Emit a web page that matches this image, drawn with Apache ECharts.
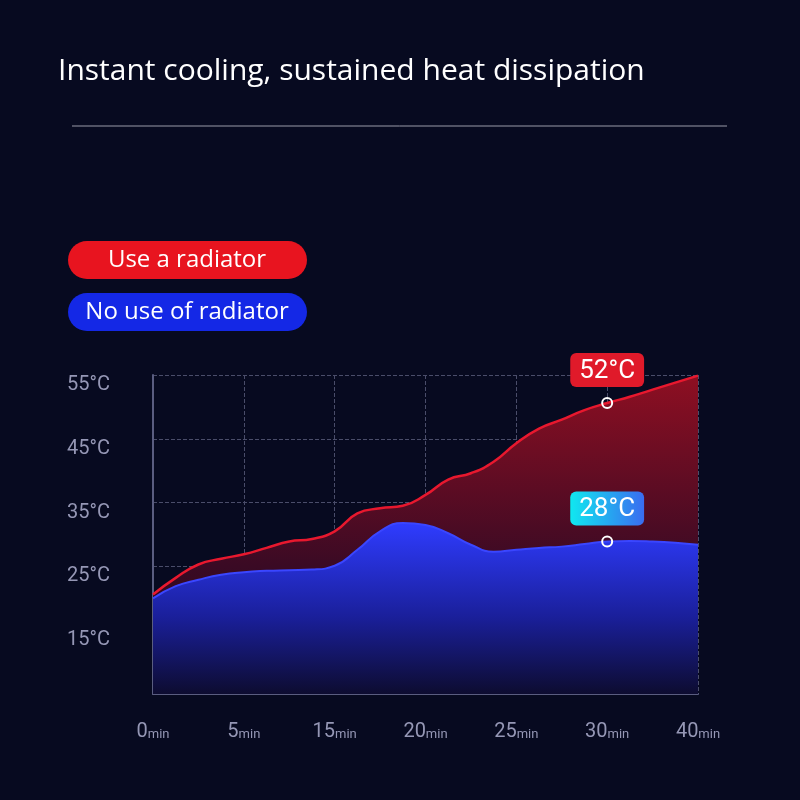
<!DOCTYPE html>
<html><head><meta charset="utf-8">
<script src="https://cdn.jsdelivr.net/npm/echarts@6/dist/echarts.min.js"></script>
<style>html,body{margin:0;background:#070a20;}#c{width:800px;height:800px;}</style>
</head><body><div id="c"></div>
<script>
const tickLabels = ['0','5','15','20','25','30','40'];
const categories = Array.from({length:25},(_,i)=>i);
const radiator = [20.6,23.2,25.3,26.2,26.9,27.9,28.9,29.3,30.5,33.3,34.1,34.5,36.2,38.6,39.6,41.4,44.3,46.6,48.0,49.5,50.6,51.6,52.7,53.8,54.9];
const noRadiator = [20.0,21.9,22.9,23.7,24.1,24.3,24.4,24.5,25.1,27.6,30.5,31.8,31.5,30.2,28.4,27.3,27.6,27.9,28.1,28.5,28.9,29.0,28.9,28.7,28.4];
const yTicks = [5,15,25,35,45,55];
const markIdx = 20;
const redLabel = '52°C', blueLabel = '28°C';

const chart = echarts.init(document.getElementById('c'));
function mark(series, text, bg){
  return {symbol:'circle',symbolSize:10,
    itemStyle:{color:'rgba(0,0,0,0)',borderColor:'#fff',borderWidth:2},
    label:{show:true,position:'top',distance:10,formatter:text,color:'#fff',fontSize:26,
      fontFamily:'Roboto',backgroundColor:bg,borderRadius:6,padding:[5,9,3,9]},
    data:[{coord:[markIdx,series[markIdx]]}]};
}
chart.setOption({
  backgroundColor:'#070a20',
  animation:false,
  grid:{left:153,right:102,top:375,bottom:106},
  xAxis:{type:'category',data:categories,boundaryGap:false,
    axisLine:{lineStyle:{color:'#5a5d80',width:2}},axisTick:{show:false},
    splitLine:{show:true,interval:3,lineStyle:{color:'#4a4d6a',type:'dashed'}},
    axisLabel:{interval:3,margin:28,
      formatter:(v,i)=>'{n|'+tickLabels[i/4]+'}{u|min}',
      rich:{n:{fontSize:20,color:'#9597b5',fontFamily:'Roboto'},u:{fontSize:13,color:'#9597b5',fontFamily:'Roboto',padding:[6,0,0,0]}}}},
  yAxis:{type:'value',min:5,max:55,interval:10,
    axisLine:{show:true,lineStyle:{color:'#5a5d80',width:2}},axisTick:{show:false},
    splitLine:{lineStyle:{color:'#4a4d6a',type:'dashed'}},
    axisLabel:{margin:86,align:'left',verticalAlign:'top',color:'#9597b5',fontSize:20,fontFamily:'Roboto',
      formatter:v=>v===5?'':v+'°C'}},
  series:[
    {type:'line',data:radiator,smooth:true,symbol:'none',
      lineStyle:{color:'#e8182e',width:2.5},
      areaStyle:{opacity:1,color:new echarts.graphic.LinearGradient(0,0,0,1,[{offset:0,color:'#8e0f22'},{offset:0.6,color:'#3a0a24'},{offset:1,color:'#220818'}])},
      markPoint:mark(radiator,redLabel,'#e01a2a'),z:2},
    {type:'line',data:noRadiator,smooth:true,symbol:'none',
      lineStyle:{color:'#3a46ff',width:2},
      areaStyle:{opacity:1,color:new echarts.graphic.LinearGradient(0,0,0,1,[{offset:0,color:'#2f3cff'},{offset:0.55,color:'#1a1f9a'},{offset:1,color:'#0d0c30'}])},
      markPoint:mark(noRadiator,blueLabel,new echarts.graphic.LinearGradient(0,0,1,0,[{offset:0,color:'#10e8f0'},{offset:1,color:'#3a6cf0'}])),z:3}
  ],
  graphic:[
    {type:'text',left:58,top:56,style:{text:'Instant cooling, sustained heat dissipation',fill:'#fff',fontSize:30,fontFamily:'Open Sans'}},
    {type:'line',shape:{x1:72,y1:126,x2:727,y2:126},style:{stroke:'#9a9aa8',lineWidth:1}},
    {type:'rect',shape:{x:68,y:241,width:239,height:38,r:19},style:{fill:'#e8141f'}},
    {type:'text',x:187,y:260,style:{text:'Use a radiator',fill:'#fff',fontSize:24,fontFamily:'Open Sans',align:'center',verticalAlign:'middle'}},
    {type:'rect',shape:{x:68,y:293,width:239,height:38,r:19},style:{fill:'#1428e6'}},
    {type:'text',x:187,y:312,style:{text:'No use of radiator',fill:'#fff',fontSize:24,fontFamily:'Open Sans',align:'center',verticalAlign:'middle'}}
  ]
});
</script></body></html>
